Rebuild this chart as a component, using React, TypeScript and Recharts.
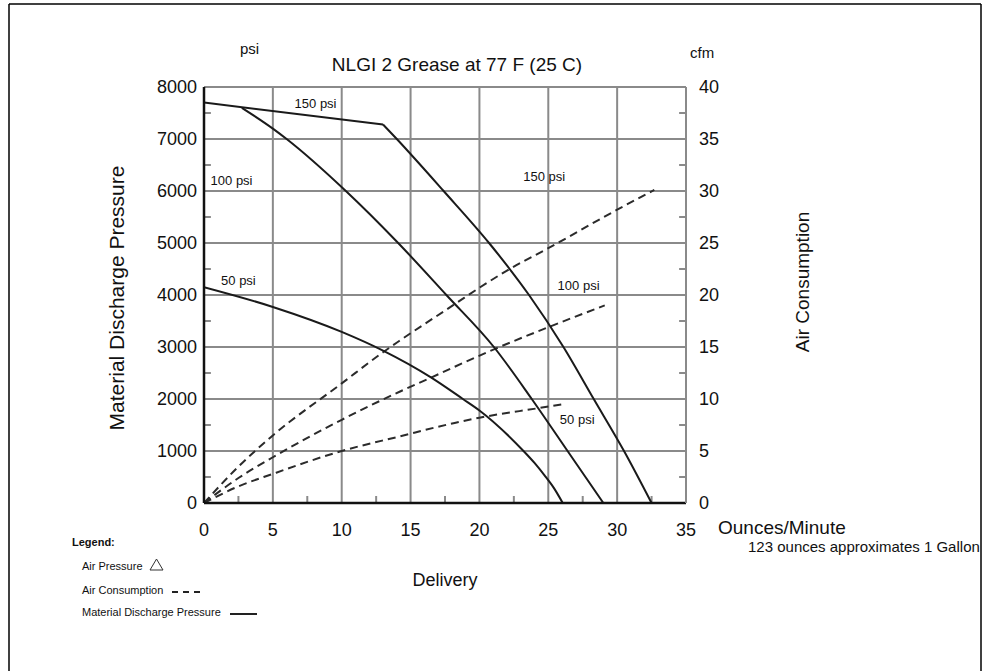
import React from 'react';
import { ComposedChart, Line, XAxis, YAxis, CartesianGrid, ReferenceDot, ReferenceLine } from 'recharts';

// delivery, ounces/minute
const X_TICKS = [0, 5, 10, 15, 20, 25, 30, 35];
const X_MINOR = [2.5, 7.5, 12.5, 17.5, 22.5, 27.5, 32.5];
// material discharge pressure, psi
const PSI_TICKS = [0, 1000, 2000, 3000, 4000, 5000, 6000, 7000, 8000];
const PSI_MINOR = [500, 1500, 2500, 3500, 4500, 5500, 6500, 7500];
// air consumption, cfm
const CFM_TICKS = [0, 5, 10, 15, 20, 25, 30, 35, 40];
const CFM_MINOR = [2.5, 7.5, 12.5, 17.5, 22.5, 27.5, 32.5, 37.5];

// material discharge pressure curves (x = oz/min, y = psi)
// 150 psi air: flat stretch up to the stall point, then the falling curve
const mdp150Flat = [{ x: 0, y: 7700 }, { x: 13, y: 7280 }];
const mdp150 = [
  { x: 13, y: 7280 }, { x: 14, y: 7000 }, { x: 17.4, y: 6000 }, { x: 20.7, y: 5000 },
  { x: 23.6, y: 4000 }, { x: 26.1, y: 3000 }, { x: 28.3, y: 2000 }, { x: 30.5, y: 1000 },
  { x: 32.5, y: 0 },
];
const mdp100 = [
  { x: 2.75, y: 7600 }, { x: 5, y: 7200 }, { x: 6, y: 7000 }, { x: 10.3, y: 6000 },
  { x: 14.1, y: 5000 }, { x: 17.6, y: 4000 }, { x: 21.05, y: 3000 }, { x: 23.8, y: 2000 },
  { x: 26.4, y: 1000 }, { x: 29, y: 0 },
];
const mdp50 = [
  { x: 0, y: 4150 }, { x: 5, y: 3770 }, { x: 10, y: 3290 }, { x: 13, y: 2930 },
  { x: 16.45, y: 2420 }, { x: 18.8, y: 2000 }, { x: 20, y: 1780 }, { x: 23.2, y: 1000 },
  { x: 24, y: 770 }, { x: 24.7, y: 540 }, { x: 25.4, y: 290 }, { x: 26.05, y: 0 },
];

// air consumption curves (x = oz/min, y = cfm)
const ac150 = [
  { x: 0, y: 0 }, { x: 2.5, y: 3.5 }, { x: 5, y: 6.5 }, { x: 10, y: 11.5 }, { x: 13, y: 14.5 },
  { x: 14.2, y: 15.6 }, { x: 18.3, y: 19.2 }, { x: 20, y: 20.7 }, { x: 22.2, y: 22.5 },
  { x: 25, y: 24.5 }, { x: 30, y: 28.2 }, { x: 32.7, y: 30.1 },
];
const ac100 = [
  { x: 0, y: 0 }, { x: 2.5, y: 2.4 }, { x: 5, y: 4.4 }, { x: 10, y: 8.0 }, { x: 14.2, y: 10.7 },
  { x: 16.4, y: 12 }, { x: 18.2, y: 13.1 }, { x: 21.1, y: 14.8 }, { x: 25, y: 16.9 },
  { x: 29.1, y: 19 },
];
const ac50 = [
  { x: 0, y: 0 }, { x: 2.5, y: 1.6 }, { x: 5, y: 2.8 }, { x: 10, y: 5.0 }, { x: 14.2, y: 6.4 },
  { x: 18.2, y: 7.7 }, { x: 20, y: 8.2 }, { x: 24.2, y: 9.1 }, { x: 26.1, y: 9.5 },
];

// curve labels in data units (psi on the left axis)
const curveLabels = [
  { text: '150 psi', x: 8.1, y: 7690 },
  { text: '100 psi', x: 2.0, y: 6210 },
  { text: '50 psi', x: 2.5, y: 4290 },
  { text: '150 psi', x: 24.7, y: 6290 },
  { text: '100 psi', x: 27.2, y: 4190 },
  { text: '50 psi', x: 27.1, y: 1610 },
];

const FONT = '"Liberation Sans", Arial, Helvetica, sans-serif';
const GRID = '#8a8a8a';
const INK = '#111';

// inner minor tick length, in axis units (about 7px)
const TICK_X = 0.5;
const TICK_PSI = 135;

const solid = { stroke: '#1a1a1a', strokeWidth: 2, dot: false, activeDot: false, isAnimationActive: false } as const;
const dashed = { ...solid, stroke: '#2b2b2b', strokeDasharray: '8 5' } as const;

export default function App() {
  return (
    <div style={{ position: 'absolute', left: 0, top: 0, width: 982, height: 671, background: '#fff', fontFamily: FONT }}>
      <ComposedChart width={982} height={671} margin={{ top: 87, right: 236, bottom: 128, left: 144 }}>
        <CartesianGrid yAxisId="left" stroke={GRID} strokeWidth={2} />
        <XAxis
          type="number"
          dataKey="x"
          domain={[0, 35]}
          ticks={X_TICKS}
          allowDataOverflow
          height={40}
          axisLine={{ stroke: INK, strokeWidth: 2.5 }}
          tickLine={false}
          tickSize={0}
          tickMargin={20}
          tick={{ fontSize: 18, fill: INK }}
        />
        <YAxis
          yAxisId="left"
          type="number"
          domain={[0, 8000]}
          ticks={PSI_TICKS}
          allowDataOverflow
          width={60}
          axisLine={{ stroke: INK, strokeWidth: 2.5 }}
          tickLine={false}
          tickSize={0}
          tickMargin={7}
          tick={{ fontSize: 18, fill: INK }}
        />
        <YAxis
          yAxisId="right"
          orientation="right"
          type="number"
          domain={[0, 40]}
          ticks={CFM_TICKS}
          allowDataOverflow
          width={60}
          axisLine={{ stroke: GRID, strokeWidth: 2 }}
          tickLine={false}
          tickSize={0}
          tickMargin={13}
          tick={{ fontSize: 18, fill: INK, textAnchor: 'start' }}
        />

        {X_MINOR.map((v) => (
          <ReferenceLine key={`xm${v}`} yAxisId="left" segment={[{ x: v, y: 0 }, { x: v, y: TICK_PSI }]} stroke={GRID} strokeWidth={2} />
        ))}
        {PSI_MINOR.map((v) => (
          <ReferenceLine key={`pm${v}`} yAxisId="left" segment={[{ x: 0, y: v }, { x: TICK_X, y: v }]} stroke={GRID} strokeWidth={2} />
        ))}
        {CFM_MINOR.map((v) => (
          <ReferenceLine key={`cm${v}`} yAxisId="right" segment={[{ x: 35 - TICK_X, y: v }, { x: 35, y: v }]} stroke={GRID} strokeWidth={2} />
        ))}

        <Line yAxisId="right" data={ac150} dataKey="y" type="monotone" {...dashed} />
        <Line yAxisId="right" data={ac100} dataKey="y" type="monotone" {...dashed} />
        <Line yAxisId="right" data={ac50} dataKey="y" type="monotone" {...dashed} />
        <Line yAxisId="left" data={mdp150Flat} dataKey="y" type="linear" {...solid} />
        <Line yAxisId="left" data={mdp150} dataKey="y" type="monotone" {...solid} />
        <Line yAxisId="left" data={mdp100} dataKey="y" type="monotone" {...solid} />
        <Line yAxisId="left" data={mdp50} dataKey="y" type="monotone" {...solid} />

        {curveLabels.map((l, i) => (
          <ReferenceDot
            key={i}
            yAxisId="left"
            x={l.x}
            y={l.y}
            r={0}
            fill="none"
            stroke="none"
            label={{ value: l.text, position: 'center', fontSize: 13, fill: INK }}
          />
        ))}
      </ComposedChart>

      <svg width={982} height={671} style={{ position: 'absolute', left: 0, top: 0, pointerEvents: 'none' }} fontFamily={FONT} fill={INK}>
        <line x1={9} y1={4} x2={981} y2={4} stroke="#000" strokeWidth={1.5} />
        <line x1={9} y1={4} x2={9} y2={671} stroke="#000" strokeWidth={1.5} />
        <line x1={981} y1={4} x2={981} y2={671} stroke="#000" strokeWidth={1.5} />

        <text x={240} y={54} fontSize={15}>psi</text>
        <text x={457} y={71} fontSize={19} textAnchor="middle">NLGI 2 Grease at 77 F (25 C)</text>
        <text x={690} y={58} fontSize={15}>cfm</text>

        <text transform="translate(124 298) rotate(-90)" fontSize={21} textAnchor="middle">Material Discharge Pressure</text>
        <text transform="translate(809 282) rotate(-90)" fontSize={19} textAnchor="middle">Air Consumption</text>

        <text x={445} y={586} fontSize={18} textAnchor="middle">Delivery</text>
        <text x={718} y={534} fontSize={19}>Ounces/Minute</text>
        <text x={748} y={552} fontSize={15}>123 ounces approximates 1 Gallon</text>

        <text x={72} y={546} fontSize={11} fontWeight="bold">Legend:</text>
        <text x={82} y={570} fontSize={11}>Air Pressure</text>
        <polygon points="150,570 163,570 156.5,559" fill="none" stroke="#333" strokeWidth={1} />
        <text x={82} y={594} fontSize={11}>Air Consumption</text>
        <line x1={172} y1={592} x2={200} y2={592} stroke="#222" strokeWidth={2} strokeDasharray="6 5" />
        <text x={82} y={616} fontSize={11}>Material Discharge Pressure</text>
        <line x1={230} y1={614} x2={257} y2={614} stroke="#222" strokeWidth={2} />
      </svg>
    </div>
  );
}
